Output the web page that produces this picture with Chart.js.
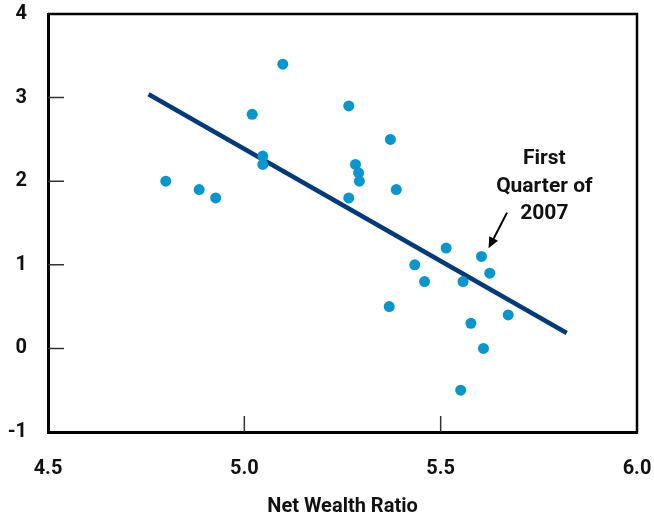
<!DOCTYPE html>
<html>
<head>
<meta charset="utf-8">
<script src="https://cdn.jsdelivr.net/npm/chart.js@4/dist/chart.umd.min.js"></script>
<style>
  html, body { margin: 0; padding: 0; background: #fff; }
  #wrap { width: 654px; height: 519px; }
</style>
</head>
<body>
<div id="wrap"><canvas id="scatterChart" width="654" height="519"></canvas></div>
<script>
// net wealth ratio (x) vs. value (y)
const wealthRatio = [4.80, 4.885, 4.927, 5.020, 5.047, 5.047, 5.098, 5.266, 5.283, 5.291,
                     5.293, 5.266, 5.372, 5.387, 5.514, 5.604, 5.434, 5.625, 5.459, 5.557,
                     5.369, 5.577, 5.672, 5.609, 5.551];
const values = [2.0, 1.9, 1.8, 2.8, 2.3, 2.2, 3.4, 2.9, 2.2, 2.1,
                2.0, 1.8, 2.5, 1.9, 1.2, 1.1, 1.0, 0.9, 0.8, 0.8,
                0.5, 0.3, 0.4, 0.0, -0.5];

// fitted line end points
const fitX = [4.756, 5.821];
const fitY = [3.04, 0.185];

const xTicks = [4.5, 5.0, 5.5, 6.0];
const yTicks = [-1, 0, 1, 2, 3, 4];

const noteLines = ['First', 'Quarter of', '2007'];
const noteAt = [5.764, 2.2];
const arrowFrom = [5.669, 1.624];
const arrowTo = [5.622, 1.197];

const FONT = 'Roboto, "Open Sans", sans-serif';

const points = wealthRatio.map((x, i) => ({ x: x, y: values[i] }));
const fitLine = fitX.map((x, i) => ({ x: x, y: fitY[i] }));

function noScalePadding(scale) {
    scale.paddingTop = 0;
    scale.paddingBottom = 0;
    scale.paddingLeft = 0;
    scale.paddingRight = 0;
}

const framePlugin = {
    id: 'frame',
    afterDatasetsDraw(chart) {
        const ctx = chart.ctx;
        const xs = chart.scales.x, ys = chart.scales.y;
        const a = chart.chartArea;
        ctx.save();
        // top and right edges of the box
        ctx.strokeStyle = '#000';
        ctx.lineWidth = 2.5;
        ctx.beginPath();
        ctx.moveTo(a.left, a.top);
        ctx.lineTo(a.right, a.top);
        ctx.lineTo(a.right, a.bottom);
        ctx.stroke();
        // inward tick marks
        ctx.strokeStyle = '#333';
        ctx.lineWidth = 1.5;
        ctx.beginPath();
        yTicks.slice(1, -1).forEach(v => {
            const py = ys.getPixelForValue(v);
            ctx.moveTo(a.left, py);
            ctx.lineTo(a.left + 16, py);
        });
        xTicks.slice(1, -1).forEach(v => {
            const px = xs.getPixelForValue(v);
            ctx.moveTo(px, a.bottom);
            ctx.lineTo(px, a.bottom - 16);
        });
        ctx.stroke();

        // annotation
        ctx.fillStyle = '#111';
        ctx.font = 'bold 21px ' + FONT;
        ctx.textAlign = 'center';
        ctx.textBaseline = 'alphabetic';
        const tx = xs.getPixelForValue(noteAt[0]);
        const ty = ys.getPixelForValue(noteAt[1]);
        noteLines.forEach((t, i) => ctx.fillText(t, tx, ty + i * 27.5));

        // arrow
        const x1 = xs.getPixelForValue(arrowFrom[0]), y1 = ys.getPixelForValue(arrowFrom[1]);
        const x2 = xs.getPixelForValue(arrowTo[0]), y2 = ys.getPixelForValue(arrowTo[1]);
        const ang = Math.atan2(y2 - y1, x2 - x1);
        const head = 12;
        ctx.strokeStyle = '#000';
        ctx.lineWidth = 2;
        ctx.beginPath();
        ctx.moveTo(x1, y1);
        ctx.lineTo(x2 - Math.cos(ang) * 6, y2 - Math.sin(ang) * 6);
        ctx.stroke();
        ctx.fillStyle = '#000';
        ctx.beginPath();
        ctx.moveTo(x2, y2);
        ctx.lineTo(x2 - head * Math.cos(ang - 0.42), y2 - head * Math.sin(ang - 0.42));
        ctx.lineTo(x2 - head * Math.cos(ang + 0.42), y2 - head * Math.sin(ang + 0.42));
        ctx.closePath();
        ctx.fill();
        ctx.restore();
    }
};

const ctx = document.getElementById('scatterChart').getContext('2d');
const chart = new Chart(ctx, {
    type: 'scatter',
    data: {
        datasets: [{
            label: 'Observations',
            data: points,
            backgroundColor: '#0a96cd',
            borderWidth: 0,
            pointRadius: 5.5,
            pointHoverRadius: 5.5
        }, {
            type: 'line',
            label: 'Fit',
            data: fitLine,
            borderColor: '#053a7a',
            borderWidth: 4.5,
            pointRadius: 0,
            fill: false
        }]
    },
    options: {
        responsive: false,
        animation: false,
        layout: { padding: { top: 14, right: 17, left: 0, bottom: 0 } },
        plugins: {
            legend: { display: false },
            tooltip: { enabled: false }
        },
        scales: {
            x: {
                type: 'linear',
                min: 4.5,
                max: 6.0,
                afterFit(scale) { scale.height = 87; noScalePadding(scale); },
                afterBuildTicks(scale) { scale.ticks = xTicks.map(v => ({ value: v })); },
                grid: { display: false, drawTicks: false },
                border: { display: true, color: '#000', width: 3 },
                ticks: {
                    padding: 25,
                    color: '#111',
                    font: { family: FONT, size: 20, weight: 'bold' },
                    callback: v => v.toFixed(1)
                },
                title: {
                    display: true,
                    text: 'Net Wealth Ratio',
                    color: '#111',
                    font: { family: FONT, size: 20, weight: 'bold', lineHeight: 1 },
                    padding: { top: 0, bottom: 2 }
                }
            },
            y: {
                min: -1,
                max: 4,
                afterFit(scale) { scale.width = 48; noScalePadding(scale); },
                afterBuildTicks(scale) { scale.ticks = yTicks.map(v => ({ value: v })); },
                grid: { display: false, drawTicks: false },
                border: { display: true, color: '#000', width: 3 },
                ticks: {
                    padding: 21,
                    color: '#111',
                    font: { family: FONT, size: 20, weight: 'bold' },
                    callback: v => String(v)
                }
            }
        }
    },
    plugins: [framePlugin]
});
</script>
</body>
</html>
